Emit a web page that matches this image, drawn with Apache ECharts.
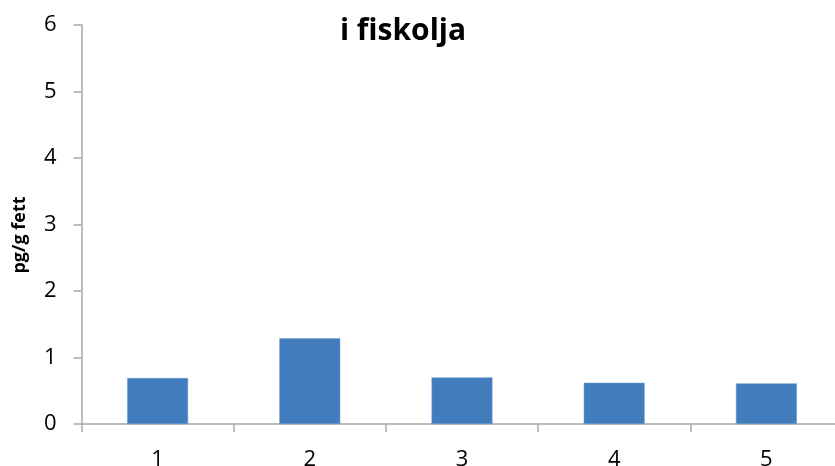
<!DOCTYPE html>
<html>
<head>
<meta charset="utf-8">
<script src="https://cdn.jsdelivr.net/npm/echarts@6/dist/echarts.min.js"></script>
<style>
  html, body { margin: 0; padding: 0; background: #fff; }
  #chart { width: 835px; height: 466px; }
</style>
</head>
<body>
<div id="chart"></div>
<script>
// Samples along the x axis and their concentrations (pg/g fett)
const categories = ['1', '2', '3', '4', '5'];
const values = [0.69, 1.29, 0.70, 0.62, 0.61];
const yTicks = { min: 0, max: 6, interval: 1 };

const FONT = '"Open Sans", "Noto Sans", sans-serif';
const axisGray = '#a6a6a6';

const chart = echarts.init(document.getElementById('chart'), null, { renderer: 'canvas' });
chart.setOption({
  animation: false,
  backgroundColor: '#ffffff',
  title: {
    text: 'i fiskolja',
    left: 398,
    top: 11,
    textAlign: 'center',
    textStyle: { fontFamily: FONT, fontWeight: 'bold', fontSize: 30, color: '#000' }
  },
  // plot area runs slightly past the right edge of the canvas
  grid: {
    left: 81.5, width: 761, top: 25, height: 399,
    containLabel: false,
    outerBoundsMode: 'none'
  },
  graphic: [{
    type: 'text',
    x: 20,
    y: 235,
    rotation: Math.PI / 2,
    style: {
      text: 'pg/g fett',
      fontFamily: FONT,
      fontWeight: 'bold',
      fontSize: 18,
      fill: '#000',
      align: 'center',
      verticalAlign: 'middle'
    }
  }],
  xAxis: {
    type: 'category',
    data: categories,
    boundaryGap: true,
    axisLine: { lineStyle: { color: axisGray, width: 1.5 } },
    axisTick: { show: true, length: 8, alignWithLabel: false, lineStyle: { color: axisGray, width: 1.5 } },
    axisLabel: { fontFamily: FONT, fontSize: 22, color: '#000', margin: 25 }
  },
  yAxis: {
    type: 'value',
    min: yTicks.min,
    max: yTicks.max,
    interval: yTicks.interval,
    axisLine: { show: true, lineStyle: { color: axisGray, width: 1.5 } },
    axisTick: { show: true, length: 8, lineStyle: { color: axisGray, width: 1.5 } },
    axisLabel: { fontFamily: FONT, fontSize: 22, color: '#000', margin: 25 },
    splitLine: { show: false }
  },
  series: [{
    type: 'bar',
    data: values,
    barWidth: '40%',
    itemStyle: { color: '#417dbd', borderColor: '#6d9bcf', borderWidth: 0.5 }
  }]
});
</script>
</body>
</html>
